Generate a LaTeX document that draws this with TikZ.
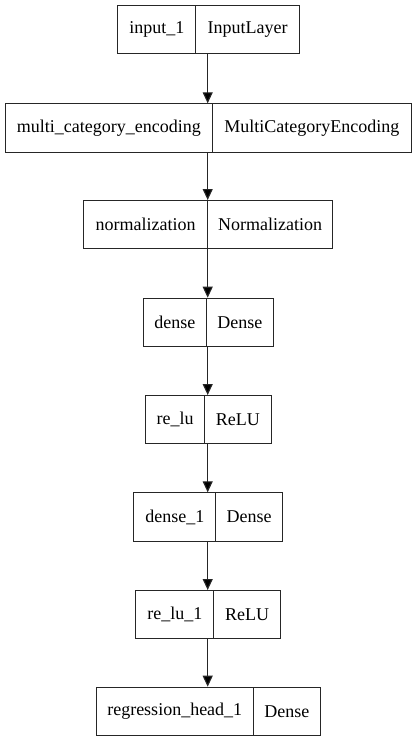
\documentclass[tikz,border=0pt]{standalone}
\usepackage{fontspec}
\setmainfont{Liberation Serif}
\usetikzlibrary{arrows.meta}
\tikzset{
  cell/.style={draw=black!85, line width=1.1pt, inner sep=0pt, anchor=north west,
    minimum height=48.3pt, font=\fontsize{18}{20}\selectfont, text=black},
  arr/.style={draw=black!85, line width=1.1pt, -{Triangle[length=11pt,width=10pt,fill=black]}}
}
\newcommand{\lay}[7]{%
  \pgfmathsetmacro{\wa}{#3-#2}%
  \pgfmathsetmacro{\wb}{#4-#3}%
  \node[cell, minimum width=\wa pt] (#1a) at (#2,#5) {#6};
  \node[cell, minimum width=\wb pt] (#1b) at (#3,#5) {#7};
}
\begin{document}
\begin{tikzpicture}[x=1pt,y=-1pt]
\useasboundingbox (0,0) rectangle (416,741);
\coordinate (ax) at (207.7,0);
\lay{l1}{117.3}{195.3}{298.7}{5}{input\_1}{InputLayer}
\lay{l2}{5}{211.7}{410.7}{103.3}{multi\_category\_encoding}{MultiCategoryEncoding}
\lay{l3}{83.3}{206.7}{332.3}{200}{normalization}{Normalization}
\lay{l4}{142.7}{206}{272.7}{297.7}{dense}{Dense}
\lay{l5}{145}{204}{270.7}{395}{re\_lu}{ReLU}
\lay{l6}{133.3}{215.3}{282}{492.3}{dense\_1}{Dense}
\lay{l7}{135.3}{213.3}{280}{590}{re\_lu\_1}{ReLU}
\lay{l8}{95.7}{252.7}{320}{686.7}{regression\_head\_1}{Dense}
\draw[arr] (l1a.south -| ax) -- (l2a.north -| ax);
\draw[arr] (l2a.south -| ax) -- (l3a.north -| ax);
\draw[arr] (l3a.south -| ax) -- (l4a.north -| ax);
\draw[arr] (l4a.south -| ax) -- (l5a.north -| ax);
\draw[arr] (l5a.south -| ax) -- (l6a.north -| ax);
\draw[arr] (l6a.south -| ax) -- (l7a.north -| ax);
\draw[arr] (l7a.south -| ax) -- (l8a.north -| ax);
\end{tikzpicture}
\end{document}
